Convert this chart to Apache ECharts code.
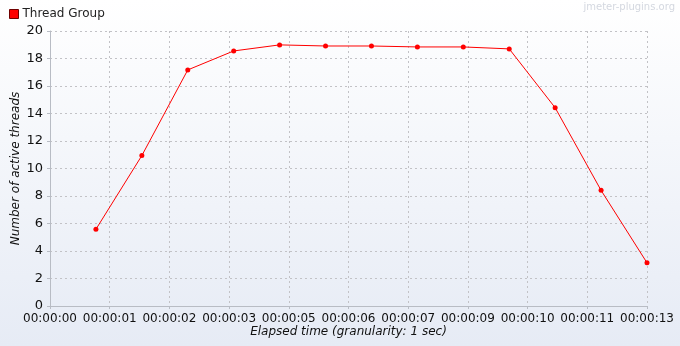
<!DOCTYPE html>
<html><head><meta charset="utf-8">
<script src="https://cdn.jsdelivr.net/npm/echarts@6/dist/echarts.min.js"></script>
<style>html,body{margin:0;padding:0;}#c{width:680px;height:346px;}</style>
</head><body><div id="c"></div>
<script>
var seriesName = 'Thread Group';
var elapsedSec = [1,2,3,4,5,6,7,8,9,10,11,12,13];
var activeThreads = [5.58,10.94,17.17,18.55,18.99,18.91,18.91,18.84,18.84,18.70,14.42,8.41,3.14];
var yTicks = {min:0, max:20, interval:2};
var xTicks = {min:0, max:13000, interval:1300};

function pad(n){return (n<10?'0':'')+n;}
function fmt(ms){var s=Math.floor(ms/1000+1e-9);return pad(Math.floor(s/3600))+':'+pad(Math.floor(s/60)%60)+':'+pad(s%60);}

var chart = echarts.init(document.getElementById('c'), null, {renderer:'canvas'});
var font = 'DejaVu Sans';
chart.setOption({
  animation:false,
  backgroundColor:{type:'linear',x:0,y:0,x2:0,y2:1,colorStops:[{offset:0,color:'#ffffff'},{offset:1,color:'#e6ebf5'}]},
  textStyle:{fontFamily:font},
  legend:{left:9,top:8,padding:0,itemWidth:9,itemHeight:9,icon:'rect',itemGap:4,
    textStyle:{fontFamily:font,fontSize:12,color:'#222',padding:[0,0,0,-1]},
    itemStyle:{borderColor:'#700000',borderWidth:1},
    data:[seriesName]},
  graphic:[{type:'text',right:5,top:2,style:{text:'jmeter-plugins.org',fill:'#d4d8e0',font:'10px DejaVu Sans'}}],
  grid:{left:50,right:33,top:31,bottom:40,containLabel:false,outerBoundsMode:'none'},
  xAxis:{type:'value',min:xTicks.min,max:xTicks.max,interval:xTicks.interval,
    name:'Elapsed time (granularity: 1 sec)',nameLocation:'middle',nameGap:20,nameMoveOverlap:false,
    nameTextStyle:{fontStyle:'italic',fontSize:12,color:'#111',fontFamily:font},
    axisLine:{lineStyle:{color:'#b8bcc4'}},
    axisTick:{show:true,length:3,lineStyle:{color:'#b8bcc4'}},
    axisLabel:{formatter:fmt,fontSize:12,color:'#111',margin:7,fontFamily:font},
    splitLine:{show:true,lineStyle:{color:'#c2c2c6',type:[2,3]}}},
  yAxis:{type:'value',min:yTicks.min,max:yTicks.max,interval:yTicks.interval,
    name:'Number of active threads',nameLocation:'middle',nameGap:28,nameMoveOverlap:false,
    nameTextStyle:{fontStyle:'italic',fontSize:12,color:'#111',fontFamily:font},
    axisLine:{show:true,lineStyle:{color:'#b8bcc4'}},
    axisTick:{show:true,length:3,lineStyle:{color:'#b8bcc4'}},
    axisLabel:{fontSize:13,color:'#111',margin:7,fontFamily:font},
    splitLine:{show:true,lineStyle:{color:'#c2c2c6',type:[2,3]}}},
  series:[{name:seriesName,type:'line',
    data:elapsedSec.map(function(s,i){return [s*1000,activeThreads[i]];}),
    color:'#ff0000',symbol:'circle',symbolSize:5,showAllSymbol:true,
    lineStyle:{width:1,color:'#ff0000'},itemStyle:{color:'#ff0000'}}]
});
</script></body></html>
